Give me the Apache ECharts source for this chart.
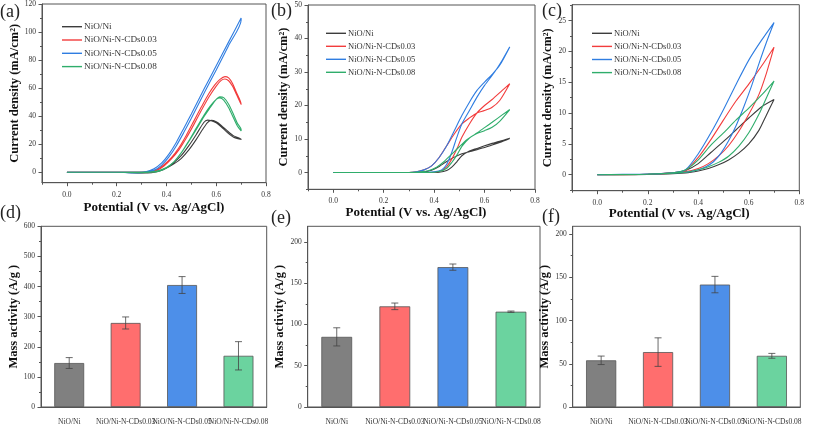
<!DOCTYPE html>
<html><head><meta charset="utf-8">
<script src="https://cdn.jsdelivr.net/npm/echarts@6/dist/echarts.min.js"></script>
<style>html,body{margin:0;padding:0;background:#fff}#c{width:813px;height:426px}</style>
</head><body><div id="c"></div>
<script>
const seriesNames = ['NiO/Ni','NiO/Ni-N-CDs0.03','NiO/Ni-N-CDs0.05','NiO/Ni-N-CDs0.08'];
const lineColors = ['#3c3c3c','#f23c3c','#2f7de1','#2fad6b'];
const barColors = ['#808080','#ff6e6e','#4d8fe9','#6bd39f'];

// Panel (a): [potential V, current density mA/cm2]; forward and reverse branches
const aNiFwd = [[0,0],[0.2,0],[0.3,0],[0.34,0.2],[0.37,1],[0.4,3],[0.43,6],[0.46,10],[0.49,16],[0.52,23.5],[0.545,30.5],[0.565,35.5],[0.58,37],[0.6,36],[0.62,33.5],[0.645,29.5],[0.67,26],[0.7,23.5]];
const aNiRev = [[0.7,23],[0.67,25],[0.645,28.3],[0.62,32.5],[0.6,35.3],[0.58,36.8],[0.565,37.2],[0.55,35.5],[0.52,27],[0.49,19],[0.46,12],[0.43,7],[0.4,3],[0.37,0.8],[0.34,-0.2],[0.3,-0.4],[0.25,-0.2],[0.2,0],[0,0]];
const aC03Fwd = [[0,0],[0.2,0],[0.3,0],[0.33,0.3],[0.36,1.8],[0.39,5.5],[0.42,10.5],[0.45,17.5],[0.48,26.5],[0.51,36.5],[0.54,46.5],[0.57,56],[0.595,62.5],[0.615,66.3],[0.635,68.2],[0.65,67.3],[0.665,63.5],[0.68,57.5],[0.7,48.5]];
const aC03Rev = [[0.7,48],[0.68,56],[0.665,61.5],[0.65,65.3],[0.635,66.5],[0.62,65.5],[0.6,61.5],[0.57,53.5],[0.54,44],[0.51,34],[0.48,24.5],[0.45,16],[0.42,9.5],[0.39,4.5],[0.36,1.2],[0.33,0],[0.3,-0.3],[0.2,0],[0,0]];
const aC05Fwd = [[0,0],[0.2,0],[0.29,0],[0.32,0.5],[0.35,2.5],[0.38,6.5],[0.41,13],[0.44,21.5],[0.47,31.5],[0.5,41.5],[0.55,59],[0.6,76],[0.65,93],[0.7,110]];
const aC05Rev = [[0.7,108.5],[0.65,90.5],[0.6,73],[0.55,56],[0.5,38.5],[0.47,28.5],[0.44,19],[0.41,11],[0.38,5],[0.35,1.5],[0.32,0],[0.29,-0.5],[0.2,0],[0,0]];
const aC08Fwd = [[0,0],[0.2,0],[0.3,0],[0.34,0.3],[0.37,1.3],[0.4,3.5],[0.43,7.5],[0.46,14],[0.49,22],[0.52,30.5],[0.55,39.5],[0.575,46],[0.595,51],[0.615,53.8],[0.63,53.2],[0.65,48.5],[0.67,41],[0.685,35],[0.7,30.5]];
const aC08Rev = [[0.7,29.5],[0.685,33],[0.67,38.5],[0.65,46],[0.63,51.5],[0.615,53],[0.6,52],[0.575,47],[0.55,40.5],[0.52,31.5],[0.49,22.5],[0.46,14],[0.43,7.5],[0.4,3],[0.37,0.8],[0.34,0],[0.3,-0.3],[0.2,0],[0,0]];

// Panel (b)
const bNiFwd = [[0,0],[0.3,0],[0.36,0.2],[0.39,0.7],[0.42,1.8],[0.45,3.3],[0.48,4.6],[0.51,5.6],[0.54,6.2],[0.57,6.8],[0.6,7.5],[0.63,8.2],[0.66,9],[0.7,10.2]];
const bNiRev = [[0.7,10.2],[0.66,9.3],[0.63,8.7],[0.6,8],[0.57,7.2],[0.54,6.4],[0.51,5],[0.49,3.2],[0.47,1.6],[0.45,0.6],[0.42,0.1],[0.38,0],[0,0]];
const bC03Fwd = [[0,0],[0.3,0],[0.33,0.2],[0.36,0.8],[0.39,2],[0.42,4.5],[0.45,8],[0.48,11.5],[0.51,14.5],[0.54,16.3],[0.57,17.8],[0.6,18.5],[0.63,19.5],[0.66,21.5],[0.7,26.5]];
const bC03Rev = [[0.7,26.5],[0.67,24.5],[0.63,21.8],[0.6,20],[0.57,17.8],[0.54,14.5],[0.51,10.5],[0.49,7],[0.47,4],[0.45,1.8],[0.43,0.6],[0.4,0.1],[0.35,0],[0,0]];
const bC05Fwd = [[0,0],[0.3,0],[0.33,0.2],[0.36,0.8],[0.39,2],[0.42,4.5],[0.45,8],[0.48,12.5],[0.51,17],[0.54,21],[0.57,24.5],[0.6,27],[0.63,29.3],[0.66,32],[0.7,37.5]];
const bC05Rev = [[0.7,37.5],[0.67,33.5],[0.64,30],[0.6,26],[0.57,22.5],[0.54,18.5],[0.51,14.5],[0.49,10.5],[0.47,6],[0.45,2.5],[0.43,0.8],[0.4,0.2],[0.35,0],[0,0]];
const bC08Fwd = [[0,0],[0.3,0],[0.35,0.2],[0.38,0.6],[0.41,1.6],[0.44,3.3],[0.47,5.5],[0.5,7.7],[0.53,9.8],[0.56,11.3],[0.6,12.5],[0.63,13.5],[0.66,15.3],[0.7,18.8]];
const bC08Rev = [[0.7,18.8],[0.67,17.2],[0.63,15],[0.6,13.4],[0.57,11.8],[0.54,10.3],[0.51,7.8],[0.49,5.2],[0.47,3],[0.45,1.3],[0.42,0.3],[0.38,0],[0,0]];

// Panel (c)
const cNiFwd = [[0,0],[0.1,0.02],[0.2,0.08],[0.3,0.3],[0.35,0.7],[0.4,1.8],[0.45,3.6],[0.5,5.4],[0.55,7.3],[0.6,9.2],[0.65,11],[0.7,12.2]];
const cNiRev = [[0.7,12.2],[0.67,9.7],[0.64,7.2],[0.6,5],[0.56,3.5],[0.52,2.4],[0.48,1.6],[0.44,1],[0.4,0.6],[0.35,0.3],[0.2,0.05],[0,0]];
const cC03Fwd = [[0,0],[0.1,0.02],[0.2,0.08],[0.3,0.3],[0.35,0.7],[0.4,2.8],[0.45,5.7],[0.5,8.9],[0.55,12],[0.6,14.7],[0.65,17.6],[0.7,20.7]];
const cC03Rev = [[0.7,20.7],[0.67,16.5],[0.64,13],[0.6,9.8],[0.56,7],[0.52,4.7],[0.48,3],[0.44,1.8],[0.4,1],[0.35,0.5],[0.2,0.08],[0,0]];
const cC05Fwd = [[0,0],[0.1,0.05],[0.2,0.1],[0.3,0.3],[0.35,0.8],[0.4,3.4],[0.45,6.8],[0.5,10.6],[0.55,14.7],[0.6,18.6],[0.65,21.8],[0.7,24.7]];
const cC05Rev = [[0.7,24.7],[0.67,21.5],[0.64,18],[0.61,14.3],[0.58,11],[0.55,8],[0.52,5.5],[0.49,3.5],[0.46,2.1],[0.43,1.3],[0.4,0.8],[0.35,0.4],[0.2,0.1],[0,0]];
const cC08Fwd = [[0,0],[0.1,0.02],[0.2,0.08],[0.3,0.3],[0.35,0.8],[0.4,2.4],[0.45,4.8],[0.5,6.8],[0.55,8.9],[0.6,10.8],[0.65,12.9],[0.7,15.2]];
const cC08Rev = [[0.7,15.2],[0.67,12.5],[0.64,9.8],[0.6,6.8],[0.56,4.6],[0.52,3],[0.48,2],[0.44,1.3],[0.4,0.8],[0.35,0.4],[0.2,0.08],[0,0]];

// Bar panels: mass activity (A/g) and error
const barCats = ['NiO/Ni','NiO/Ni-N-CDs0.03','NiO/Ni-N-CDs0.05','NiO/Ni-N-CDs0.08'];
const dVals = [146,279,405,170];
const dErrs = [18,20,28,47];
const eVals = [85,122,169.5,115.5];
const eErrs = [11,4,3.8,0.8];
const fVals = [54,63.5,141.6,59.2];
const fErrs = [4.9,16.5,9.5,2.8];

// Tick labels
const potTicks = [0,0.2,0.4,0.6,0.8];
const potMinor = [-0.1,0.1,0.3,0.5,0.7];
const aTicks = [0,20,40,60,80,100,120];
const aMinor = [10,30,50,70,90,110];
const bTicks = [0,10,20,30,40,50];
const bMinor = [-5,5,15,25,35,45];
const cTicks = [0,5,10,15,20,25];
const cMinor = [-2.5,2.5,7.5,12.5,17.5,22.5,27.5];
const dTicks = [0,100,200,300,400,500,600];
const dMinor = [50,150,250,350,450,550];
const efTicks = [0,50,100,150,200];
const efMinor = [25,75,125,175];

const FONT = "'Liberation Serif','Times New Roman',serif";
const AX = '#555';
const chart = echarts.init(document.getElementById('c'), null, {renderer:'canvas'});

const grids = [
  {left:42, top:4, width:224, height:178.7},
  {left:308, top:5, width:227, height:184.3},
  {left:572, top:4.7, width:227.3, height:186},
  {left:41, top:226.3, width:225.7, height:182},
  {left:307.7, top:226.3, width:232.3, height:184},
  {left:572.7, top:226.3, width:227.6, height:183.7}
].map(g => Object.assign({show:true, borderColor:AX, borderWidth:1, backgroundColor:'transparent'}, g));

const xAxes = [], yAxes = [];
function valPair(list, dim, gi, min, max, ticks, minors, fmt, name, nameGap, labelMargin, namePad) {
  const main = {
    type:'value', gridIndex:gi, min, max, position: dim==='x'?'bottom':'left',
    axisLine:{show:true, onZero:false, lineStyle:{color:AX, width:1}},
    axisTick:{show:true, customValues:ticks, length:3.5, lineStyle:{color:AX}},
    axisLabel:{customValues:ticks, formatter:fmt, fontFamily:FONT, fontSize:7.5, color:'#333', margin:labelMargin},
    splitLine:{show:false},
    name, nameLocation:'middle', nameGap,
    nameTextStyle:{fontFamily:FONT, fontWeight:'bold', fontSize: dim==='x'?13:12.5, color:'#111', padding: namePad || 0}
  };
  const minor = {
    type:'value', gridIndex:gi, min, max, position: dim==='x'?'bottom':'left',
    axisLine:{show:false, onZero:false},
    axisTick:{show:true, customValues:minors, length:2, lineStyle:{color:AX}},
    axisLabel:{show:false}, splitLine:{show:false}
  };
  const idx = list.length;
  list.push(main, minor);
  return idx;
}
const fx1 = v => v.toFixed(1);
const fint = v => String(v);
const yTitle = 'Current density (mA/cm\u00B2)';
const xTitle = 'Potential (V vs. Ag/AgCl)';

const ax = [], ay = [];
ax[0] = valPair(xAxes,'x',0,-0.1,0.8,potTicks,potMinor,fx1,xTitle,18,8);
ay[0] = valPair(yAxes,'y',0,-7.4,120,aTicks,aMinor,fint,yTitle,16,6);
ax[1] = valPair(xAxes,'x',1,-0.1,0.8,potTicks,potMinor,fx1,xTitle,13.5,8,[0,11,0,0]);
ay[1] = valPair(yAxes,'y',1,-5,50,bTicks,bMinor,fint,yTitle,11.5,6);
ax[2] = valPair(xAxes,'x',2,-0.1,0.8,potTicks,potMinor,fx1,xTitle,12.5,8,[0,13,0,0]);
ay[2] = valPair(yAxes,'y',2,-2.6,27.6,cTicks,cMinor,fint,yTitle,13,6);

// bar panels
const barY = [[0,600,dTicks,dMinor,17],[0,219,efTicks,efMinor,18],[0,209,efTicks,efMinor,19]];
for (let k=0;k<3;k++) {
  ax[3+k] = xAxes.length;
  xAxes.push({type:'category', gridIndex:3+k, data:barCats, position:'bottom',
    axisLine:{show:true, onZero:false, lineStyle:{color:AX}}, axisTick:{show:false},
    axisLabel:{interval:0, hideOverlap:false, fontFamily:FONT, fontSize:7.5, color:'#333', margin:11},
    splitLine:{show:false}});
  const b = barY[k];
  ay[3+k] = valPair(yAxes,'y',3+k,b[0],b[1],b[2],b[3],fint,'Mass activity (A/g )',b[4],6);
}

const series = [];
const panels = [
  [aNiFwd,aNiRev,aC03Fwd,aC03Rev,aC05Fwd,aC05Rev,aC08Fwd,aC08Rev],
  [bNiFwd,bNiRev,bC03Fwd,bC03Rev,bC05Fwd,bC05Rev,bC08Fwd,bC08Rev],
  [cNiFwd,cNiRev,cC03Fwd,cC03Rev,cC05Fwd,cC05Rev,cC08Fwd,cC08Rev]
];
panels.forEach((arrs,p) => {
  for (let s=0;s<4;s++) {
    series.push({type:'line', name:seriesNames[s], xAxisIndex:ax[p], yAxisIndex:ay[p],
      data: arrs[2*s].concat(arrs[2*s+1]), showSymbol:false, symbol:'none', smooth:0.25,
      lineStyle:{color:lineColors[s], width:1.1}, itemStyle:{color:lineColors[s]},
      animation:false, z:2+s});
  }
});

function errRender(params, api) {
  const x = api.value(0), y = api.value(1), e = api.value(2);
  const hi = api.coord([x, y + e]), lo = api.coord([x, y - e]);
  const w = 3.5;
  const style = {stroke:'#444', lineWidth:0.8, fill:null};
  return {type:'group', children:[
    {type:'line', shape:{x1:hi[0],y1:hi[1],x2:lo[0],y2:lo[1]}, style},
    {type:'line', shape:{x1:hi[0]-w,y1:hi[1],x2:hi[0]+w,y2:hi[1]}, style},
    {type:'line', shape:{x1:lo[0]-w,y1:lo[1],x2:lo[0]+w,y2:lo[1]}, style}
  ]};
}
[[dVals,dErrs],[eVals,eErrs],[fVals,fErrs]].forEach((ve,k) => {
  series.push({type:'bar', name:'bar'+k, xAxisIndex:ax[3+k], yAxisIndex:ay[3+k], barWidth:'53%',
    data: ve[0].map((v,i)=>({value:v, itemStyle:{color:barColors[i], borderColor:'#555', borderWidth:0.8}})),
    animation:false, z:2});
  series.push({type:'custom', name:'err'+k, xAxisIndex:ax[3+k], yAxisIndex:ay[3+k],
    renderItem:errRender, encode:{x:0,y:1},
    data: ve[0].map((v,i)=>[i, v, ve[1][i]]), animation:false, z:5});
});

function legendAt(left, top, fs, gap) {
  return {data:seriesNames, left, top, orient:'vertical', icon:'rect', itemWidth:20, itemHeight:1.4,
    itemGap:gap, padding:0, selectedMode:false,
    textStyle:{fontFamily:FONT, fontSize:fs, color:'#333', lineHeight:10, padding:[0,0,0,-3]}};
}

const labels = [['(a)',0,12.5],['(b)',271,11],['(c)',542,11],['(d)',0,213],['(e)',271,218],['(f)',542,217]];

chart.setOption({
  backgroundColor:'#fff', animation:false,
  grid:grids, xAxis:xAxes, yAxis:yAxes, series,
  legend:[legendAt(62,21.7,9.2,3.3), legendAt(326,28.3,8.5,3), legendAt(592,28.3,8.5,3.1)],
  graphic: labels.map(l => ({type:'text', left:l[1], top:l[2]-9,
    style:{text:l[0], font:'18px '+FONT, fill:'#222'}}))
});
</script></body></html>
